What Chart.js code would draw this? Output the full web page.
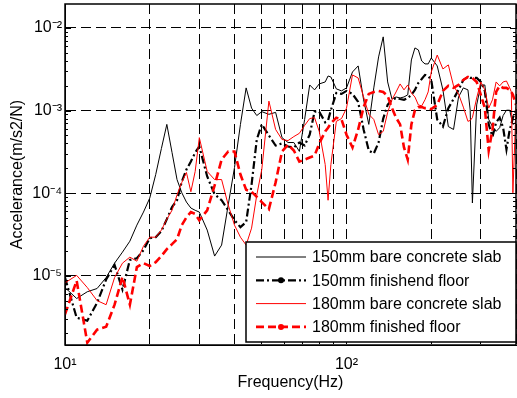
<!DOCTYPE html>
<html>
<head>
<meta charset="utf-8">
<script src="https://cdn.jsdelivr.net/npm/chart.js@4.4.1/dist/chart.umd.min.js"></script>
<style>
  html, body { margin: 0; padding: 0; background: #fff; }
  canvas { display: block; }
</style>
</head>
<body>
<canvas id="frfChart" width="517" height="398"></canvas>
<script>
// frequency axis (Hz), shared by all four curves
const freqs = [10,11,12,13,14,15,16,17,18,19,20,21,22,23,24,25,26,27,28,29,30,
  32,34,36,38,40,42,44,46,48,50,
  53,56,59,62,65,68,71,74,77,80,
  84,86,88,92,96,100,
  105,110,115,120,125,130,135,140,145,150,155,160,165,170,175,180,185,190,195,200,
  210,220,230,240,250,260,270,275,280,
  290,300,310,320,330,340,350,360,370,380,
  385,390,400];

// accelerance (m/s2/N)
const bare150 = [7.2e-6,5.3e-6,6.4e-6,7.0e-6,9.5e-6,1.42e-5,1.93e-5,2.62e-5,4.1e-5,5.9e-5,8.7e-5,1.68e-4,3.47e-4,6.8e-4,3.1e-4,1.46e-4,1.01e-4,7.8e-5,6.6e-5,6.2e-5,5.9e-5,
  3.57e-5,1.73e-5,2.35e-5,7.2e-5,2.04e-4,6.8e-4,1.88e-3,1.07e-3,8.7e-4,9.7e-4,
  9.0e-4,9.5e-4,4.7e-4,4.1e-4,4.1e-4,3.2e-4,7.8e-4,2.04e-3,1.78e-3,2.1e-3,
  2.22e-3,2.62e-3,2.55e-3,1.83e-3,1.73e-3,1.88e-3,
  2.93e-3,3.47e-3,1.35e-3,6.8e-4,1.88e-3,4.46e-3,7.8e-3,2.22e-3,1.38e-3,1.46e-3,1.42e-3,1.46e-3,1.55e-3,4.1e-3,5.73e-3,5.42e-3,3.98e-3,3.67e-3,3.67e-3,4.33e-3,
  3.47e-3,1.78e-3,6.4e-4,5.9e-4,1.46e-3,1.88e-3,1.78e-3,1.01e-3,7.6e-5,
  1.17e-3,2.04e-3,2.04e-3,7.8e-4,6.4e-4,5.6e-4,6.2e-4,8.7e-4,1.01e-3,1.01e-3,
  8.2e-4,6.8e-4,7.2e-4];

const finished150 = [9.5e-6,3.1e-6,2.85e-6,4.7e-6,9.0e-6,1.35e-5,6.8e-6,1.55e-5,1.63e-5,2.04e-5,2.85e-5,2.93e-5,3.47e-5,4.84e-5,6.8e-5,8.2e-5,1.38e-4,1.93e-4,2.41e-4,3.1e-4,3.67e-4,
  1.59e-4,9.7e-5,8.2e-5,6.2e-5,4.7e-5,3.87e-5,4.46e-5,1.27e-4,4.46e-4,6.8e-4,
  5.0e-4,3.77e-4,4.0e-4,3.67e-4,3.57e-4,4.1e-4,3.77e-4,5.1e-4,9.7e-4,9.7e-4,
  7.2e-4,7.6e-4,1.01e-3,1.63e-3,1.59e-3,1.73e-3,
  1.59e-3,1.27e-3,5.9e-4,3.28e-4,3.02e-4,4.1e-4,8.0e-4,1.17e-3,1.35e-3,1.42e-3,1.38e-3,1.35e-3,1.42e-3,1.55e-3,1.78e-3,2.16e-3,2.41e-3,2.7e-3,2.62e-3,2.35e-3,
  7.8e-4,6.4e-4,1.07e-3,1.38e-3,1.78e-3,2.35e-3,2.55e-3,2.48e-3,2.48e-3,
  2.48e-3,2.22e-3,1.73e-3,6.8e-4,4.84e-4,7.2e-4,8.2e-4,6.2e-4,3.37e-4,5.9e-4,
  6.8e-4,8.2e-4,1.01e-3];

const bare180 = [8.2e-6,1.01e-5,7.2e-6,5.0e-6,4.46e-6,9.5e-6,1.42e-5,1.68e-5,1.5e-5,2.28e-5,2.93e-5,2.93e-5,3.57e-5,4.84e-5,6.2e-5,9.5e-5,1.35e-4,1.78e-4,1.04e-4,1.83e-4,4.7e-4,
  1.83e-4,1.46e-4,1.46e-4,7.2e-5,4.1e-5,2.93e-5,2.35e-5,3.77e-5,9.5e-5,1.93e-4,
  1.3e-3,5.9e-4,4.46e-4,4.33e-4,4.84e-4,5.3e-4,6.6e-4,8.0e-4,8.2e-4,5.6e-4,
  2.22e-4,8.2e-5,2.22e-4,7.4e-4,8.0e-4,1.07e-3,
  2.7e-3,2.48e-3,1.46e-3,9.0e-4,7.8e-4,5.1e-4,5.6e-4,9.5e-4,1.35e-3,1.68e-3,2.1e-3,1.78e-3,2.04e-3,1.63e-3,1.46e-3,1.17e-3,1.14e-3,1.35e-3,1.68e-3,2.93e-3,
  4.7e-3,3.19e-3,3.57e-3,1.99e-3,1.59e-3,1.1e-3,7.4e-4,7.6e-4,8.2e-4,
  1.42e-3,2.22e-3,1.78e-3,1.07e-3,1.35e-3,2.22e-3,1.99e-3,2.22e-3,2.28e-3,1.88e-3,
  1.68e-3,1.01e-4,1.1e-3];

const finished180 = [3.4e-6,8.7e-6,1.55e-6,2.22e-6,2.41e-6,4.46e-6,9.7e-6,4.46e-6,1.27e-5,1.42e-5,1.31e-5,1.46e-5,1.73e-5,2.1e-5,2.41e-5,2.77e-5,4.1e-5,5.1e-5,5.9e-5,5.6e-5,4.7e-5,
  6.2e-5,1.24e-4,2.55e-4,3.19e-4,3.19e-4,1.68e-4,1.1e-4,1.04e-4,9.0e-5,7.8e-5,
  6.4e-5,1.35e-4,3.19e-4,3.87e-4,3.28e-4,2.41e-4,2.55e-4,2.7e-4,2.85e-4,3.98e-4,
  5.6e-4,6.2e-4,7.0e-4,8.2e-4,7.8e-4,5.1e-4,
  3.57e-4,5.9e-4,1.1e-3,1.59e-3,1.68e-3,1.73e-3,1.68e-3,1.5e-3,1.07e-3,8.2e-4,6.8e-4,3.57e-4,2.55e-4,6.8e-4,1.01e-3,1.1e-3,1.1e-3,1.07e-3,1.07e-3,1.04e-3,
  1.17e-3,1.73e-3,1.99e-3,1.88e-3,2.04e-3,2.35e-3,2.55e-3,2.48e-3,2.48e-3,
  2.22e-3,1.55e-3,1.07e-3,3.28e-4,5.9e-4,1.68e-3,1.99e-3,1.88e-3,1.88e-3,1.78e-3,
  1.68e-3,1.55e-3,1.17e-3];

const seriesNames = ['150mm bare concrete slab', '150mm finishend floor', '180mm bare concrete slab', '180mm finished floor'];

const xTicks = [10, 20, 30, 40, 50, 60, 70, 80, 90, 100, 200, 300, 400];
const xTickLabels = { 10: '10¹', 100: '10²' };
const yTicks = [1e-5, 1e-4, 1e-3, 1e-2];
const yTickLabels = ['10⁻⁵', '10⁻⁴', '10⁻³', '10⁻²'];

const FONT = "'Liberation Sans', Arial, sans-serif";

function pts(vals) {
    return freqs.map((f, i) => ({ x: f, y: vals[i] }));
}

// drop the label half-size padding chart.js adds at the axis ends
function noEndPadding(s) {
    s.paddingTop = 0;
    s.paddingBottom = 0;
    s.paddingLeft = 0;
    s.paddingRight = 0;
}

// box round the plot, small inner ticks, legend in the lower right corner
const framePlugin = {
    id: 'frameLegend',
    afterDatasetsDraw(chart) {
        const ctx = chart.ctx;
        const a = chart.chartArea;
        const ys = chart.scales.y;
        ctx.save();
        ctx.strokeStyle = '#000';
        ctx.setLineDash([]);

        // minor ticks on left / right sides
        ctx.lineWidth = 1;
        ctx.beginPath();
        for (let e = -6; e <= -2; e++) {
            for (let m = 1; m <= 9; m++) {
                const v = m * Math.pow(10, e);
                if (v < ys.min || v > ys.max) continue;
                const py = Math.round(ys.getPixelForValue(v)) + 0.5;
                const len = m === 1 ? 6 : 3;
                ctx.moveTo(a.left, py); ctx.lineTo(a.left + len, py);
                ctx.moveTo(a.right, py); ctx.lineTo(a.right - len, py);
            }
        }
        ctx.stroke();

        ctx.lineWidth = 1.5;
        ctx.strokeRect(a.left, a.top, a.right - a.left, a.bottom - a.top);

        const w = 270, h = 100;
        const left = a.right - w, top = a.bottom - h - 3;
        ctx.fillStyle = '#fff';
        ctx.fillRect(left, top, w, h);
        ctx.lineWidth = 1.5;
        ctx.strokeRect(left, top, w, h);

        ctx.font = '16px ' + FONT;
        ctx.textBaseline = 'middle';
        ctx.textAlign = 'left';
        chart.data.datasets.forEach((ds, i) => {
            const y = top + 15 + i * 23.3;
            ctx.beginPath();
            ctx.strokeStyle = ds.borderColor;
            ctx.lineWidth = ds.borderWidth;
            ctx.setLineDash(ds.borderDash || []);
            ctx.moveTo(left + 10, y);
            ctx.lineTo(left + 60, y);
            ctx.stroke();
            ctx.setLineDash([]);
            if (ds.legendDot) {
                ctx.beginPath();
                ctx.fillStyle = ds.borderColor;
                ctx.arc(left + 35, y, 3, 0, Math.PI * 2);
                ctx.fill();
            }
            ctx.fillStyle = '#000';
            ctx.fillText(ds.label, left + 66, y + 1);
        });
        ctx.restore();
    }
};

const chart = new Chart(document.getElementById('frfChart'), {
    type: 'line',
    data: {
        datasets: [
            { label: seriesNames[0], data: pts(bare150), borderColor: '#000', borderWidth: 1, order: 3 },
            { label: seriesNames[1], data: pts(finished150), borderColor: '#000', borderWidth: 2.2, borderDash: [8, 3, 2, 3], legendDot: true, order: 2 },
            { label: seriesNames[2], data: pts(bare180), borderColor: '#ff0000', borderWidth: 1, order: 1 },
            { label: seriesNames[3], data: pts(finished180), borderColor: '#ff0000', borderWidth: 2.6, borderDash: [8, 4], legendDot: true, order: 0 }
        ]
    },
    options: {
        responsive: false,
        animation: false,
        devicePixelRatio: 1,
        layout: { padding: { top: 4, right: 1, left: 0, bottom: 0 } },
        elements: { point: { radius: 0 }, line: { tension: 0, fill: false } },
        plugins: { legend: { display: false }, tooltip: { enabled: false } },
        scales: {
            x: {
                type: 'logarithmic',
                min: 10,
                max: 400,
                afterBuildTicks: s => { s.ticks = xTicks.map(v => ({ value: v })); },
                afterFit: s => { s.height = 53; noEndPadding(s); },
                ticks: {
                    autoSkip: false, maxRotation: 0, minRotation: 0, padding: 10,
                    color: '#000', font: { family: FONT, size: 16 },
                    callback: v => xTickLabels[v] || ''
                },
                grid: { color: '#000', lineWidth: 1, drawTicks: false },
                border: { display: true, color: '#000', width: 1, dash: [10, 5] },
                title: { display: true, text: 'Frequency(Hz)', color: '#000', font: { family: FONT, size: 16 }, padding: { top: 0, bottom: 6 } }
            },
            y: {
                type: 'logarithmic',
                min: 1.45e-6,
                max: 0.0195,
                afterBuildTicks: s => { s.ticks = yTicks.map(v => ({ value: v })); },
                afterFit: s => { s.width = 65; noEndPadding(s); },
                ticks: {
                    padding: 3, color: '#000', font: { family: FONT, size: 16 },
                    callback: (v, i) => yTickLabels[i]
                },
                grid: { color: '#000', lineWidth: 1, drawTicks: false },
                border: { display: true, color: '#000', width: 1, dash: [10, 5] },
                title: { display: true, text: 'Accelerance(m/s2/N)', color: '#000', font: { family: FONT, size: 16 }, padding: { top: 8, bottom: 0 } }
            }
        }
    },
    plugins: [framePlugin]
});
</script>
</body>
</html>
